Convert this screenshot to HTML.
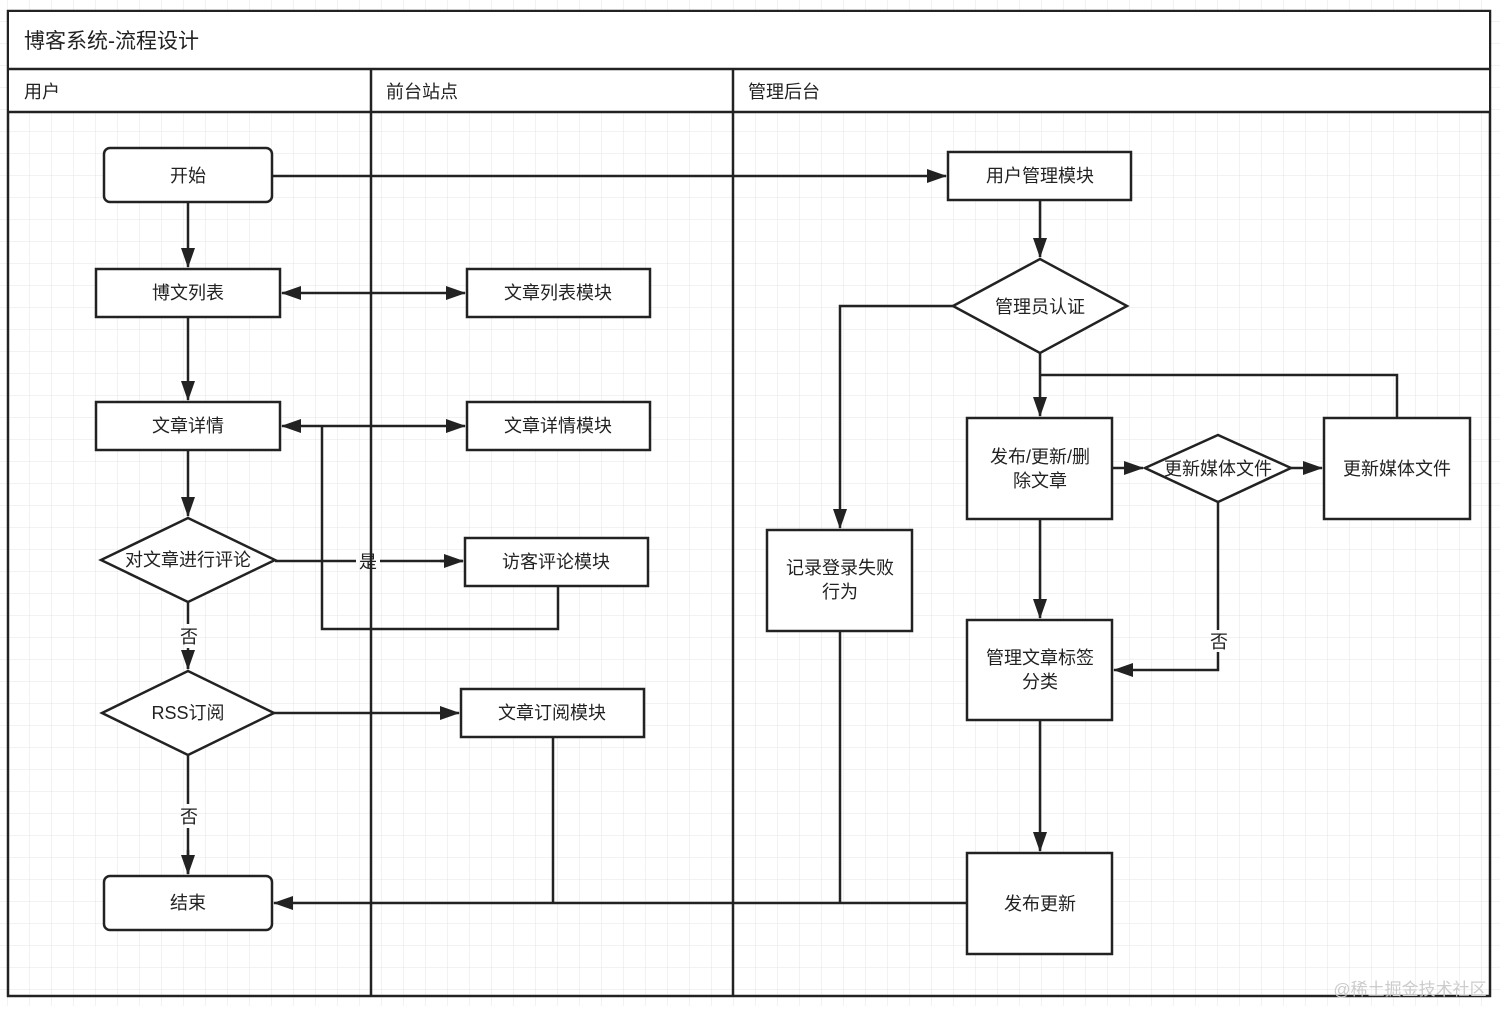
<!DOCTYPE html>
<html><head><meta charset="utf-8"><style>
html,body{margin:0;padding:0;background:#fff;}
svg text{font-family:"Liberation Sans","Noto Sans CJK SC",sans-serif;fill:#222;}
</style></head><body>
<svg width="1500" height="1006" viewBox="0 0 1500 1006" xmlns="http://www.w3.org/2000/svg">
<defs>
<pattern id="g" width="22" height="22" patternUnits="userSpaceOnUse" x="8" y="0">
<path d="M22 0V22M0 22H22" fill="none" stroke="#e4e4e4" stroke-width="1"/>
</pattern>
<marker id="a" markerWidth="10" markerHeight="10" refX="9" refY="5" orient="auto" markerUnits="userSpaceOnUse" viewBox="0 0 10 10">
<path d="M0,0 L10,5 L0,10 z" fill="#222"/>
</marker>
<marker id="as" markerWidth="20" markerHeight="14" refX="19" refY="7" orient="auto-start-reverse" markerUnits="userSpaceOnUse" viewBox="0 0 20 14">
<path d="M0,0 L20,7 L0,14 z" fill="#222"/>
</marker>
</defs>
<rect width="1500" height="1006" fill="url(#g)"/>
<g fill="none" stroke="#222" stroke-width="2.5">
<rect x="8" y="11" width="1482" height="985" fill="none"/>
<rect x="9" y="12" width="1480" height="57" fill="#fff" stroke="none"/>
<rect x="9" y="70" width="1480" height="42" fill="#fff" stroke="none"/>
<path d="M8 69H1490M8 112H1490M371 69V996M733 69V996"/>
</g>
<text x="24" y="48" font-size="21">博客系统-流程设计</text>
<text x="24" y="98" font-size="18">用户</text>
<text x="386" y="98" font-size="18">前台站点</text>
<text x="748" y="98" font-size="18">管理后台</text>

<g fill="none" stroke="#222" stroke-width="2.5">
<!-- edges -->
<path d="M272 176H946" marker-end="url(#as)"/>
<path d="M188 202V267" marker-end="url(#as)"/>
<path d="M282 293H465" marker-start="url(#as)" marker-end="url(#as)"/>
<path d="M188 317V400" marker-end="url(#as)"/>
<path d="M282 426H465" marker-start="url(#as)" marker-end="url(#as)"/>
<path d="M188 450V516" marker-end="url(#as)"/>
<path d="M275 561H356M380 561H463" />
<path d="M440 561H463" marker-end="url(#as)"/>
<path d="M558 586V629H322V426"/>
<path d="M188 602V624M188 648V669" />
<path d="M188 655V669" marker-end="url(#as)"/>
<path d="M274 713H459" marker-end="url(#as)"/>
<path d="M188 755V804M188 828V874"/>
<path d="M188 850V874" marker-end="url(#as)"/>
<path d="M967 903H274" marker-end="url(#as)"/>
<path d="M553 737V903"/>
<path d="M840 631V903"/>
<path d="M953 306H840V528" marker-end="url(#as)"/>
<path d="M1040 200V257" marker-end="url(#as)"/>
<path d="M1040 353V416" marker-end="url(#as)"/>
<path d="M1040 375H1397V418"/>
<path d="M1112 468H1143" marker-end="url(#as)"/>
<path d="M1291 468H1322" marker-end="url(#as)"/>
<path d="M1218 502V630M1218 652V670H1114" marker-end="url(#as)"/>
<path d="M1040 519V618" marker-end="url(#as)"/>
<path d="M1040 720V851" marker-end="url(#as)"/>
</g>
<g fill="#fff" stroke="#222" stroke-width="2.5">
<rect x="104" y="148" width="168" height="54" rx="6"/>
<rect x="96" y="269" width="184" height="48"/>
<rect x="96" y="402" width="184" height="48"/>
<polygon points="101,560 188,518 275,560 188,602"/>
<polygon points="102,713 188,671 274,713 188,755"/>
<rect x="104" y="876" width="168" height="54" rx="6"/>
<rect x="467" y="269" width="183" height="48"/>
<rect x="467" y="402" width="183" height="48"/>
<rect x="465" y="538" width="183" height="48"/>
<rect x="461" y="689" width="183" height="48"/>
<rect x="948" y="152" width="183" height="48"/>
<polygon points="953,306 1040,259 1127,306 1040,353"/>
<rect x="967" y="418" width="145" height="101"/>
<polygon points="1145,468 1218,435 1291,468 1218,502"/>
<rect x="1324" y="418" width="146" height="101"/>
<rect x="767" y="530" width="145" height="101"/>
<rect x="967" y="620" width="145" height="100"/>
<rect x="967" y="853" width="145" height="101"/>
</g>
<g font-size="18" text-anchor="middle">
<text x="188" y="182">开始</text>
<text x="188" y="299">博文列表</text>
<text x="188" y="432">文章详情</text>
<text x="188" y="566">对文章进行评论</text>
<text x="188" y="719">RSS订阅</text>
<text x="188" y="909">结束</text>
<text x="558" y="299">文章列表模块</text>
<text x="558" y="432">文章详情模块</text>
<text x="556" y="568">访客评论模块</text>
<text x="552" y="719">文章订阅模块</text>
<text x="1040" y="182">用户管理模块</text>
<text x="1040" y="313">管理员认证</text>
<text x="1040" y="463">发布/更新/删</text>
<text x="1040" y="487">除文章</text>
<text x="1218" y="475">更新媒体文件</text>
<text x="1397" y="475">更新媒体文件</text>
<text x="840" y="574">记录登录失败</text>
<text x="840" y="598">行为</text>
<text x="1040" y="664">管理文章标签</text>
<text x="1040" y="688">分类</text>
<text x="1040" y="910">发布更新</text>
<text x="368" y="568">是</text>
<text x="189" y="643">否</text>
<text x="189" y="823">否</text>
<text x="1219" y="648">否</text>
</g>
<text x="1410" y="995" font-size="17" text-anchor="middle" style="fill:#ccc">@稀土掘金技术社区</text>
</svg>
</body></html>
